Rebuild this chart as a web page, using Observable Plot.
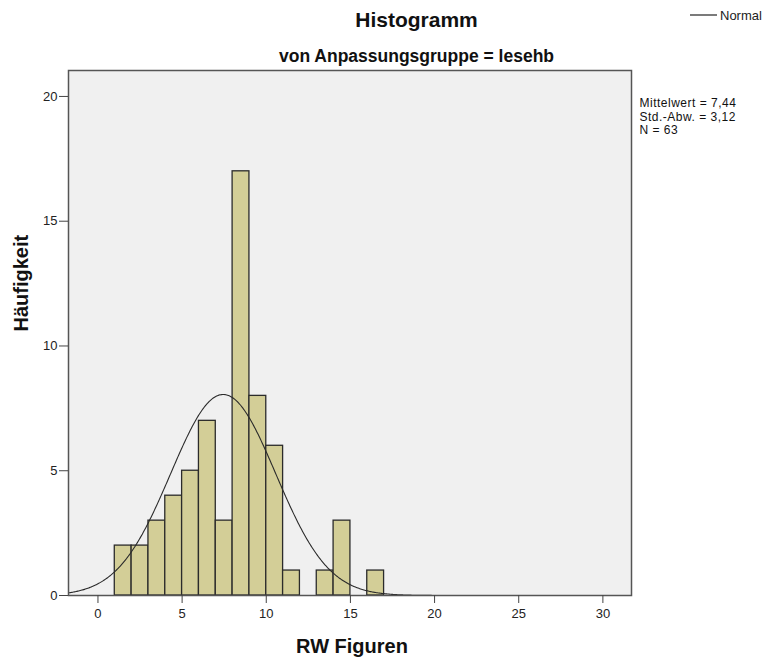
<!DOCTYPE html>
<html>
<head>
<meta charset="utf-8">
<script src="https://cdn.jsdelivr.net/npm/d3@7"></script>
<script src="https://cdn.jsdelivr.net/npm/@observablehq/plot@0.6"></script>
<style>
  html, body { margin: 0; padding: 0; background: #fff; }
  #chart svg { display: block; }
  .stats text { letter-spacing: 0.5px; }
</style>
</head>
<body>
<div id="chart"></div>
<script>
// Histogram of "RW Figuren" for Anpassungsgruppe = lesehb (bin width 1)
const binStart = [1, 2, 3, 4, 5, 6, 7, 8, 9, 10, 11, 12, 13, 14, 15, 16];
const counts   = [2, 2, 3, 4, 5, 7, 3, 17, 8, 6, 1, 0, 1, 3, 0, 1];
const binWidth = 1;

// Summary statistics shown beside the plot
const mean = 7.44;
const sd = 3.12;
const n = 63;

const xTicks = [0, 5, 10, 15, 20, 25, 30];
const yTicks = [0, 5, 10, 15, 20];
const xDomain = [-1.75, 31.7];
const yDomain = [0, 21.04];

const bins = binStart.map((x0, i) => ({x1: x0, x2: x0 + binWidth, count: counts[i]}))
  .filter(d => d.count > 0);

// Fitted normal curve scaled to counts: N * binWidth * density(x; mean, sd)
const curve = d3.range(xDomain[0], xDomain[1] + 0.001, 0.05).map(x => ({
  x,
  y: n * binWidth * Math.exp(-((x - mean) ** 2) / (2 * sd * sd)) / (sd * Math.sqrt(2 * Math.PI))
}));

const font = "'Liberation Sans', Arial, Helvetica, sans-serif";
const fmt = v => v.toFixed(2).replace(".", ",");
const statsLines = [`Mittelwert = ${fmt(mean)}`, `Std.-Abw. = ${fmt(sd)}`, `N = ${n}`];
const statsOpts = {frameAnchor: "top-right", dx: 8, textAnchor: "start", lineAnchor: "bottom", fontSize: 12, fill: "#111", className: "stats"};

const chart = Plot.plot({
  width: 765,
  height: 657,
  marginLeft: 68,
  marginRight: 134,
  marginTop: 70,
  marginBottom: 62,
  style: {background: "#fff", fontFamily: font, overflow: "visible"},
  x: {domain: xDomain},
  y: {domain: yDomain},
  marks: [
    Plot.frame({fill: "#f0f0f0"}),
    Plot.rectY(bins, {x1: "x1", x2: "x2", y: "count", fill: "#d3ce97", stroke: "#2b2b2b", strokeWidth: 1.3}),
    Plot.line(curve, {x: "x", y: "y", stroke: "#2b2b2b", strokeWidth: 1.1, clip: true}),
    Plot.frame({stroke: "#555", strokeWidth: 1.5}),
    Plot.axisX({ticks: xTicks, tickSize: 8, tickPadding: 5, stroke: "#444", fill: "#222", fontSize: 13, label: null}),
    Plot.axisY({ticks: yTicks, tickSize: 9, tickPadding: 2, stroke: "#444", fill: "#222", fontSize: 13, label: null}),
    // titles
    Plot.text(["Histogramm"], {frameAnchor: "top", dx: 66.5, dy: -44, lineAnchor: "bottom", fontSize: 21, fontWeight: "bold", fill: "#111"}),
    Plot.text(["von Anpassungsgruppe = lesehb"], {frameAnchor: "top", dx: 66.5, dy: -9, lineAnchor: "bottom", fontSize: 17.5, fontWeight: "bold", fill: "#111"}),
    // axis titles
    Plot.text(["RW Figuren"], {frameAnchor: "bottom", dx: 2, dy: 57, lineAnchor: "bottom", fontSize: 20, fontWeight: "bold", fill: "#111"}),
    Plot.text(["Häufigkeit"], {frameAnchor: "left", dx: -41, dy: -1.5, rotate: -90, lineAnchor: "bottom", fontSize: 20, fontWeight: "bold", fill: "#111"}),
    // statistics beside the plot, one line each
    Plot.text([statsLines[0]], {...statsOpts, dy: 36.5}),
    Plot.text([statsLines[1]], {...statsOpts, dy: 50}),
    Plot.text([statsLines[2]], {...statsOpts, dy: 63.5})
  ]
});

// legend entry for the normal curve
const svg = d3.select(chart);
const legend = svg.append("g").attr("text-anchor", "start");
legend.append("line").attr("x1", 690).attr("x2", 717).attr("y1", 15).attr("y2", 15)
  .attr("stroke", "#333").attr("stroke-width", 1.3);
legend.append("text").attr("x", 720).attr("y", 20).attr("font-size", 13)
  .attr("font-family", font).attr("fill", "#222").attr("text-anchor", "start").text("Normal");

document.getElementById("chart").append(chart);
</script>
</body>
</html>
